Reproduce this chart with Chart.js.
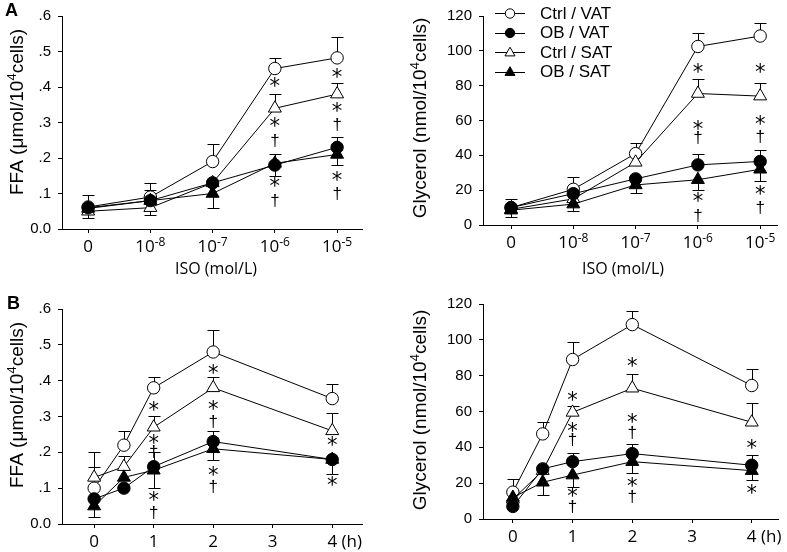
<!DOCTYPE html>
<html>
<head>
<meta charset="utf-8">
<script src="https://cdn.jsdelivr.net/npm/chart.js@4.4.1/dist/chart.umd.min.js"></script>
<style>
  body { margin: 0; background: #fff; }
  #wrap { position: relative; width: 787px; height: 552px; }
  canvas { position: absolute; }
</style>
</head>
<body>
<div id="wrap">
  <canvas id="ffaDose" width="393" height="280" style="left:0;top:0"></canvas>
  <canvas id="glyDose" width="394" height="280" style="left:393px;top:0"></canvas>
  <canvas id="ffaTime" width="393" height="272" style="left:0;top:280px"></canvas>
  <canvas id="glyTime" width="394" height="272" style="left:393px;top:280px"></canvas>
</div>
<script>
const seriesNames = ["Ctrl / VAT", "OB / VAT", "Ctrl / SAT", "OB / SAT"]

// x positions
const doseX = [0, 1, 2, 3, 4]
const doseTickBase = ["0", "10", "10", "10", "10"]
const doseTickExp = ["", "-8", "-7", "-6", "-5"]
const timeX = [0, 0.5, 1, 2, 4]
const timeTicks = [0, 1, 2, 3, 4]

// A left: FFA vs ISO dose (umol/10^4 cells); err = SE drawn up (+) or down (-)
const ffaDoseCtrlVat = [0.062, 0.09, 0.19, 0.452, 0.482]
const ffaDoseCtrlVatErr = [0.035, 0.04, 0.05, 0.03, 0.06]
const ffaDoseObVat = [0.06, 0.08, 0.13, 0.18, 0.23]
const ffaDoseObVatErr = [null, null, null, -0.03, 0.03]
const ffaDoseCtrlSat = [0.05, 0.06, 0.13, 0.34, 0.38]
const ffaDoseCtrlSatErr = [null, 0.05, null, 0.04, 0.03]
const ffaDoseObSat = [0.058, 0.08, 0.10, 0.185, 0.21]
const ffaDoseObSatErr = [-0.028, -0.04, -0.04, 0.025, -0.03]
const ffaDoseMarks = [
    [3, 0.414, "*"], [3, 0.302, "*"], [3, 0.248, "†"], [3, 0.132, "*"], [3, 0.081, "†"],
    [4, 0.44, "*"], [4, 0.343, "*"], [4, 0.293, "†"], [4, 0.149, "*"], [4, 0.101, "†"],
]

// A right: glycerol vs ISO dose (nmol/10^4 cells)
const glyDoseCtrlVat = [10, 20.5, 41, 102.5, 108.5]
const glyDoseCtrlVatErr = [5, 7, 6, 7.5, 7.5]
const glyDoseObVat = [10, 18, 26.5, 34.5, 36.5]
const glyDoseObVatErr = [null, null, null, 6, 6.5]
const glyDoseCtrlSat = [9, 15, 36, 75.5, 74]
const glyDoseCtrlSatErr = [null, null, 5, 8.5, 7.5]
const glyDoseObSat = [8.5, 12, 23, 26, 32]
const glyDoseObSatErr = [-4, -4, -4.5, -6, -6.5]
const glyDoseMarks = [
    [3, 90, "*"], [3, 57.5, "*"], [3, 50, "†"], [3, 16, "*"], [3, 5.5, "†"],
    [4, 90, "*"], [4, 60.3, "*"], [4, 51, "†"], [4, 20, "*"], [4, 10, "†"],
]

// B left: FFA vs time (h)
const ffaTimeCtrlVat = [0.10, 0.22, 0.38, 0.48, 0.35]
const ffaTimeCtrlVatErr = [0.06, 0.04, 0.03, 0.06, 0.04]
const ffaTimeObVat = [0.07, 0.10, 0.16, 0.23, 0.18]
const ffaTimeObVatErr = [null, null, 0.04, 0.03, null]
const ffaTimeCtrlSat = [0.13, 0.16, 0.27, 0.38, 0.26]
const ffaTimeCtrlSatErr = [0.07, 0.03, 0.03, 0.03, 0.05]
const ffaTimeObSat = [0.05, 0.13, 0.15, 0.21, 0.18]
const ffaTimeObSatErr = [-0.03, null, -0.05, -0.03, -0.04]
const ffaTimeMarks = [
    [1, 0.33, "*"], [1, 0.237, "*"], [1, 0.203, "†"], [1, 0.077, "*"], [1, 0.033, "†"],
    [2, 0.433, "*"], [2, 0.333, "*"], [2, 0.287, "†"], [2, 0.147, "*"], [2, 0.105, "†"],
    [4, 0.231, "*"], [4, 0.119, "*"],
]

// B right: glycerol vs time (h)
const glyTimeCtrlVat = [15, 47.5, 89, 108.5, 74.5]
const glyTimeCtrlVatErr = [7.5, 6.5, 10, 7.5, 9]
const glyTimeObVat = [7, 28, 32, 36.5, 30]
const glyTimeObVatErr = [null, null, 5, 5.5, 6]
const glyTimeCtrlSat = [11, 27, 59.5, 73, 54]
const glyTimeCtrlSatErr = [null, null, 3.5, 8, 10.5]
const glyTimeObSat = [12, 20.5, 24.5, 32, 27]
const glyTimeObSatErr = [null, -7, -6.5, -6.5, -5]
const glyTimeMarks = [
    [1, 68.4, "*"], [1, 51.6, "*"], [1, 44.2, "†"], [1, 15.3, "*"], [1, 6.9, "†"],
    [2, 87.4, "*"], [2, 56.3, "*"], [2, 48.3, "†"], [2, 20.9, "*"], [2, 12.5, "†"],
    [4, 41.8, "*"], [4, 16.8, "*"],
]

const SANS = '"Liberation Sans", Arial, sans-serif'
const OPEN = '"Open Sans", sans-serif'

// marker look per series (Ctrl/VAT, OB/VAT, Ctrl/SAT, OB/SAT)
const seriesStyle = [
    { pointStyle: "circle", fill: "#fff", radius: 6.2, order: 4 },
    { pointStyle: "circle", fill: "#000", radius: 6.2, order: 1 },
    { pointStyle: "triangle", fill: "#fff", radius: 7.5, order: 3 },
    { pointStyle: "triangle", fill: "#000", radius: 7.5, order: 2 },
]

function drawRich(ctx, parts, x, y, align) {
    // parts: [text, isSuperscript, mainSize]
    let total = 0
    const widths = parts.map(([t, sup, size]) => {
        ctx.font = `${sup ? Math.round(size * 0.68) : size}px ${ctx._family}`
        const w = ctx.measureText(t).width
        total += w
        return w
    })
    let cx = align === "center" ? x - total / 2 : x
    parts.forEach(([t, sup, size], i) => {
        ctx.font = `${sup ? Math.round(size * 0.68) : size}px ${ctx._family}`
        ctx.fillText(t, cx, sup ? y - size * 0.38 : y)
        cx += widths[i]
    })
}

function decorPlugin(cfg) {
    return {
        id: "decor",
        beforeDatasetsDraw(chart) {
            const ctx = chart.ctx
            const xs = chart.scales.x
            const ys = chart.scales.y
            ctx.save()
            ctx.strokeStyle = "#000"
            ctx.lineWidth = 1
            chart.data.datasets.forEach((ds) => {
                ds.err.forEach((e, j) => {
                    if (e == null) return
                    const p = ds.data[j]
                    const px = Math.round(xs.getPixelForValue(p.x)) + 0.5
                    const y0 = ys.getPixelForValue(p.y)
                    const y1 = Math.round(ys.getPixelForValue(p.y + e)) + 0.5
                    ctx.beginPath()
                    ctx.moveTo(px, y0)
                    ctx.lineTo(px, y1)
                    ctx.moveTo(px - 6, y1)
                    ctx.lineTo(px + 6, y1)
                    ctx.stroke()
                })
            })
            ctx.restore()
        },
        afterDraw(chart) {
            const ctx = chart.ctx
            const xs = chart.scales.x
            const ys = chart.scales.y
            const area = chart.chartArea
            ctx.save()
            ctx.fillStyle = "#000"
            ctx.textAlign = "left"
            ctx.textBaseline = "alphabetic"

            // x tick labels
            ctx._family = OPEN
            const base = area.bottom + 23
            cfg.xTicks.forEach((v, i) => {
                const px = xs.getPixelForValue(v)
                if (cfg.tickExp) {
                    const parts = [[cfg.tickBase[i], false, 17]]
                    if (cfg.tickExp[i]) parts.push([cfg.tickExp[i], true, 17])
                    drawRich(ctx, parts, px, base, "center")
                } else {
                    ctx.font = `17px ${OPEN}`
                    const label = String(v)
                    const w = ctx.measureText(label).width
                    ctx.fillText(label, px - w / 2, base)
                    if (i === cfg.xTicks.length - 1) ctx.fillText(" (h)", px + w / 2, base)
                }
            })

            // x title
            if (cfg.xTitle) {
                ctx.font = `16px ${OPEN}`
                const w = ctx.measureText(cfg.xTitle).width
                ctx.fillText(cfg.xTitle, cfg.xTitleX - w / 2, cfg.xTitleY)
            }

            // y title, rotated
            ctx.save()
            ctx.translate(cfg.yTitleX, cfg.yTitleY)
            ctx.rotate(-Math.PI / 2)
            ctx._family = SANS
            drawRich(ctx, cfg.yTitle.map((t, i) => [t, i === 1, 19]), 0, 0, "center")
            ctx.restore()

            // significance marks
            cfg.marks.forEach(([xv, yv, t]) => {
                ctx.font = t === "*" ? '21px "DejaVu Sans"' : `17px ${SANS}`
                const m = ctx.measureText(t)
                const px = xs.getPixelForValue(xv)
                const py = ys.getPixelForValue(yv)
                ctx.fillText(t, px - m.width / 2, py + (m.actualBoundingBoxAscent - m.actualBoundingBoxDescent) / 2)
            })

            // panel letter
            if (cfg.letter) {
                ctx.font = `bold 18px ${SANS}`
                ctx.fillText(cfg.letter, cfg.letterX, cfg.letterY)
            }

            // legend
            if (cfg.legend) {
                const lg = cfg.legend
                seriesNames.forEach((name, i) => {
                    const y = lg.top + i * lg.gap
                    const st = seriesStyle[i]
                    ctx.strokeStyle = "#000"
                    ctx.lineWidth = 1
                    ctx.beginPath()
                    ctx.moveTo(lg.x1, Math.round(y) + 0.5)
                    ctx.lineTo(lg.x2, Math.round(y) + 0.5)
                    ctx.stroke()
                    const mx = (lg.x1 + lg.x2) / 2
                    ctx.beginPath()
                    if (st.pointStyle === "circle") {
                        ctx.arc(mx, y + 0.5, 4.7, 0, Math.PI * 2)
                    } else {
                        const r = 5.8
                        ctx.moveTo(mx, y - r + 1)
                        ctx.lineTo(mx + r * 0.866, y + r / 2 + 1)
                        ctx.lineTo(mx - r * 0.866, y + r / 2 + 1)
                        ctx.closePath()
                    }
                    ctx.fillStyle = st.fill
                    ctx.fill()
                    ctx.stroke()
                    ctx.fillStyle = "#000"
                    ctx.font = `17px ${SANS}`
                    ctx.textBaseline = "middle"
                    ctx.fillText(name, lg.textX, y + 1)
                    ctx.textBaseline = "alphabetic"
                })
            }
            ctx.restore()
        },
    }
}

function makePanel(cfg) {
    const canvas = document.getElementById(cfg.canvas)
    const W = canvas.width
    const H = canvas.height
    const datasets = cfg.series.map(([values, err], i) => {
        const st = seriesStyle[i]
        return {
            label: seriesNames[i],
            data: values.map((v, j) => ({ x: cfg.xValues[j], y: v })),
            err: err,
            order: st.order,
            borderColor: "#000",
            borderWidth: 1,
            pointStyle: st.pointStyle,
            pointRadius: st.radius,
            pointBackgroundColor: st.fill,
            pointBorderColor: "#000",
            pointBorderWidth: 1,
            tension: 0,
            fill: false,
        }
    })
    return new Chart(canvas, {
        type: "line",
        data: { datasets },
        options: {
            responsive: false,
            animation: false,
            events: [],
            layout: {
                padding: { left: 0, top: cfg.area.top, right: W - cfg.area.right, bottom: 0 },
            },
            plugins: { legend: { display: false }, tooltip: { enabled: false } },
            scales: {
                x: {
                    type: "linear",
                    min: cfg.xMin,
                    max: cfg.xMax,
                    afterFit: (s) => { s.height = H - cfg.area.bottom },
                    afterBuildTicks: (s) => { s.ticks = cfg.xTicks.map((v) => ({ value: v })) },
                    grid: { drawOnChartArea: false, drawTicks: true, tickLength: 4, color: "#000", lineWidth: 1 },
                    border: { display: true, color: "#000", width: 1 },
                    ticks: { display: false },
                },
                y: {
                    min: 0,
                    max: cfg.yMax,
                    afterFit: (s) => { s.width = cfg.area.left },
                    grid: { drawOnChartArea: false, drawTicks: true, tickLength: 4, color: "#000", lineWidth: 1 },
                    border: { display: true, color: "#000", width: 1 },
                    ticks: {
                        stepSize: cfg.yStep,
                        padding: 7,
                        color: "#000",
                        font: { family: SANS, size: 15 },
                        callback: cfg.yFmt,
                    },
                },
            },
        },
        plugins: [decorPlugin(cfg)],
    })
}

const ffaFmt = (v) => (v === 0 ? "0.0" : "." + Math.round(v * 10))
const glyFmt = (v) => String(v)
const ffaTitle = ["FFA (\u03bcmol/10", "4", "cells)"]
const glyTitle = ["Glycerol (nmol/10", "4", "cells)"]

makePanel({
    canvas: "ffaDose",
    area: { left: 62, right: 362, top: 14, bottom: 229 },
    xMin: -0.42, xMax: 4.4, xValues: doseX, xTicks: doseX,
    tickBase: doseTickBase, tickExp: doseTickExp,
    yMax: 0.6, yStep: 0.1, yFmt: ffaFmt,
    series: [
        [ffaDoseCtrlVat, ffaDoseCtrlVatErr], [ffaDoseObVat, ffaDoseObVatErr],
        [ffaDoseCtrlSat, ffaDoseCtrlSatErr], [ffaDoseObSat, ffaDoseObSatErr],
    ],
    marks: ffaDoseMarks,
    yTitle: ffaTitle, yTitleX: 23, yTitleY: 112,
    xTitle: "ISO (mol/L)", xTitleX: 216, xTitleY: 274,
    letter: "A", letterX: 5, letterY: 16,
})

makePanel({
    canvas: "glyDose",
    area: { left: 90, right: 384, top: 9, bottom: 225 },
    xMin: -0.45, xMax: 4.27, xValues: doseX, xTicks: doseX,
    tickBase: doseTickBase, tickExp: doseTickExp,
    yMax: 120, yStep: 20, yFmt: glyFmt,
    series: [
        [glyDoseCtrlVat, glyDoseCtrlVatErr], [glyDoseObVat, glyDoseObVatErr],
        [glyDoseCtrlSat, glyDoseCtrlSatErr], [glyDoseObSat, glyDoseObSatErr],
    ],
    marks: glyDoseMarks,
    yTitle: glyTitle, yTitleX: 33, yTitleY: 118,
    xTitle: "ISO (mol/L)", xTitleX: 230, xTitleY: 274,
    legend: { x1: 102, x2: 132, textX: 147, top: 13, gap: 19.5 },
})

makePanel({
    canvas: "ffaTime",
    area: { left: 62, right: 362, top: 29, bottom: 244 },
    xMin: -0.54, xMax: 4.5, xValues: timeX, xTicks: timeTicks,
    yMax: 0.6, yStep: 0.1, yFmt: ffaFmt,
    series: [
        [ffaTimeCtrlVat, ffaTimeCtrlVatErr], [ffaTimeObVat, ffaTimeObVatErr],
        [ffaTimeCtrlSat, ffaTimeCtrlSatErr], [ffaTimeObSat, ffaTimeObSatErr],
    ],
    marks: ffaTimeMarks,
    yTitle: ffaTitle, yTitleX: 23, yTitleY: 125,
    letter: "B", letterX: 7, letterY: 29,
})

makePanel({
    canvas: "glyTime",
    area: { left: 90, right: 385, top: 24, bottom: 239 },
    xMin: -0.5, xMax: 4.44, xValues: timeX, xTicks: timeTicks,
    yMax: 120, yStep: 20, yFmt: glyFmt,
    series: [
        [glyTimeCtrlVat, glyTimeCtrlVatErr], [glyTimeObVat, glyTimeObVatErr],
        [glyTimeCtrlSat, glyTimeCtrlSatErr], [glyTimeObSat, glyTimeObSatErr],
    ],
    marks: glyTimeMarks,
    yTitle: glyTitle, yTitleX: 33, yTitleY: 130,
})
</script>
</body>
</html>
